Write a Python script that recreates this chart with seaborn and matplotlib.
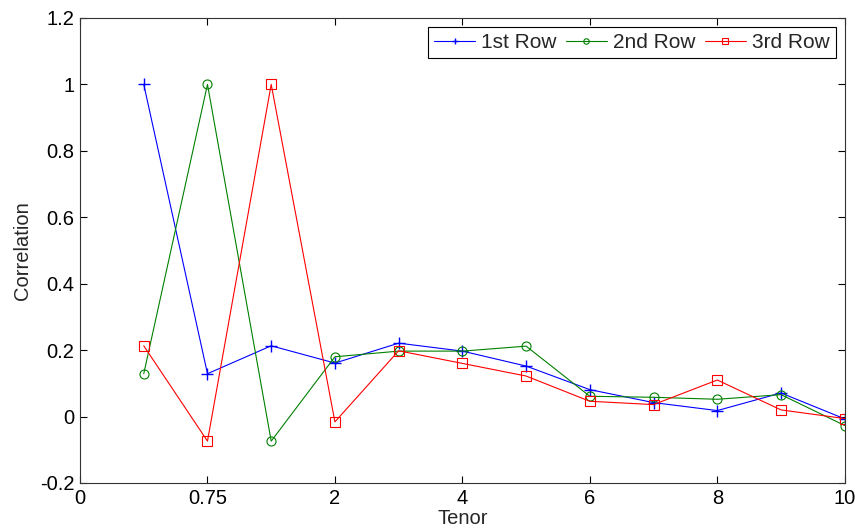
import numpy as np
import pandas as pd
import matplotlib
matplotlib.use("Agg")
import matplotlib.pyplot as plt
import seaborn as sns

# Tenor positions (index along the axis) and axis tick labels
positions = [1, 2, 3, 4, 5, 6, 7, 8, 9, 10, 11, 12]
tick_positions = [0, 2, 4, 6, 8, 10, 12]
tick_labels = ["0", "0.75", "2", "4", "6", "8", "10"]

# Correlation of each tenor with the first three rows of the matrix
row1 = [1.0, 0.129, 0.213, 0.161, 0.221, 0.197, 0.152, 0.081, 0.042, 0.018, 0.071, -0.007]
row2 = [0.129, 1.0, -0.074, 0.180, 0.197, 0.197, 0.212, 0.061, 0.058, 0.052, 0.066, -0.027]
row3 = [0.213, -0.074, 1.0, -0.016, 0.198, 0.160, 0.122, 0.046, 0.036, 0.110, 0.020, -0.006]

series_names = ["1st Row", "2nd Row", "3rd Row"]

sns.set_style("ticks")
plt.rcParams["font.family"] = ["Liberation Sans", "DejaVu Sans"]
plt.rcParams["xtick.direction"] = "in"
plt.rcParams["ytick.direction"] = "in"

fig = plt.figure(figsize=(8.55, 5.29), dpi=100)
ax = fig.add_axes([0.0936, 0.087, 0.8944, 0.879])

df = pd.DataFrame({
    "Tenor": positions * 3,
    "Correlation": row1 + row2 + row3,
    "Series": sum([[n] * len(positions) for n in series_names], []),
})

styles = {
    "1st Row": dict(color="#0000ff", marker="+", ms=8, mew=1.0),
    "2nd Row": dict(color="#008000", marker="o", ms=6.5, mew=0.8, mfc="none"),
    "3rd Row": dict(color="#ff0000", marker="s", ms=7, mew=0.8, mfc="none"),
}
for name in series_names:
    sub = df[df["Series"] == name]
    st = styles[name]
    sns.lineplot(data=sub, x="Tenor", y="Correlation", ax=ax, label=name,
                 color=st["color"], marker=st["marker"], markersize=st["ms"],
                 markeredgewidth=st["mew"], markeredgecolor=st["color"],
                 markerfacecolor=st.get("mfc", st["color"]), linewidth=0.8)

ax.set_xlim(0, 12)
ax.set_ylim(-0.2, 1.2)
ax.set_xticks(tick_positions)
ax.set_xticklabels(tick_labels)
ax.set_yticks([-0.2, 0, 0.2, 0.4, 0.6, 0.8, 1.0, 1.2])
ax.set_yticklabels(["-0.2", "0", "0.2", "0.4", "0.6", "0.8", "1", "1.2"])
ax.tick_params(axis="both", labelsize=14.5, length=5, width=0.8, colors="black",
               top=True, right=True, pad=4)
for s in ax.spines.values():
    s.set_linewidth(0.8)
    s.set_color("#333333")
ax.set_xlabel("Tenor", fontsize=14.5, labelpad=1)
ax.set_ylabel("Correlation", fontsize=14.5, labelpad=6)

leg = ax.legend(loc="upper right", ncol=3, fontsize=15, frameon=True, fancybox=False,
                edgecolor="black", framealpha=1, borderpad=0.3, handlelength=1.95,
                handletextpad=0.3, columnspacing=0.45, borderaxespad=0.43,
                markerscale=0.6)
leg.get_frame().set_linewidth(0.8)

fig.savefig("out.png", dpi=100)
